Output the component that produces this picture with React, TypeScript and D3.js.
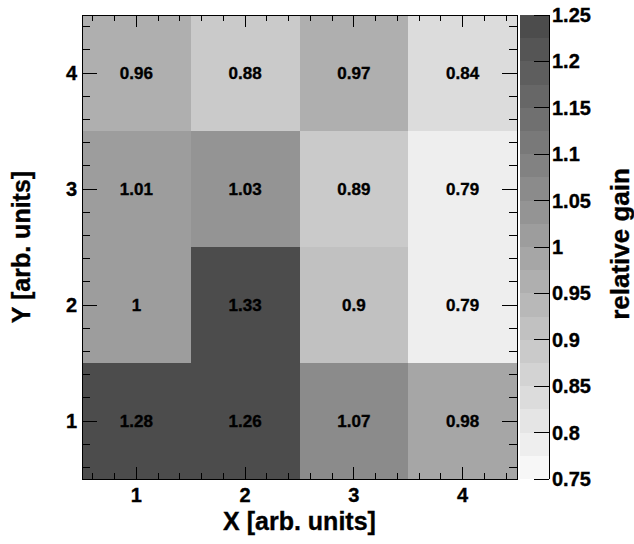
import React from "react";
import * as d3 from "d3";

const xCategories = [1, 2, 3, 4];
const yCategories = [1, 2, 3, 4];
// values[row y index][col x index]
const row1 = [1.28, 1.26, 1.07, 0.98];
const row2 = [1, 1.33, 0.9, 0.79];
const row3 = [1.01, 1.03, 0.89, 0.79];
const row4 = [0.96, 0.88, 0.97, 0.84];
const rows = [row1, row2, row3, row4];
const colorTicks = [0.75, 0.8, 0.85, 0.9, 0.95, 1, 1.05, 1.1, 1.15, 1.2, 1.25];
const zMin = 0.75;
const zMax = 1.25;
const nLevels = 20;

const W = 634;
const H = 544;
const L = 82, R = 517, T = 15, B = 479;
const CBL = 520, CBR = 549;
const FONT = "'Liberation Sans', Arial, Helvetica, sans-serif";

export default function App() {
  const x = d3.scaleLinear().domain([0.5, 4.5]).range([L, R]);
  const y = d3.scaleLinear().domain([0.5, 4.5]).range([B, T]);
  const z = d3.scaleLinear().domain([zMin, zMax]).range([B, T]);
  const step = (zMax - zMin) / nLevels;
  const levelColor = (i: number) => {
    const g = Math.round(247 - (171 / (nLevels - 1)) * i);
    return d3.rgb(g, g, g).formatHex();
  };
  const levelOf = (v: number) => {
    let i = Math.floor((v - zMin) / step + 1e-9);
    return Math.max(0, Math.min(nLevels - 1, i));
  };
  const minorX = d3.range(0.6, 4.5, 0.2).map((v) => +v.toFixed(2));
  const minorY = minorX;

  const cells: any[] = [];
  rows.forEach((row, yi) => {
    row.forEach((v, xi) => {
      const cx = xCategories[xi];
      const cy = yCategories[yi];
      cells.push({ cx, cy, v });
    });
  });

  const heavy = { stroke: "#000", strokeWidth: 0.35 };

  return (
    <svg width={W} height={H} style={{ display: "block", position: "absolute", left: 0, top: 0 }}>
      <rect x={0} y={0} width={W} height={H} fill="#fff" />
      {cells.map((c, i) => (
        <rect
          key={"c" + i}
          x={x(c.cx - 0.5)}
          y={y(c.cy + 0.5)}
          width={x(c.cx + 0.5) - x(c.cx - 0.5)}
          height={y(c.cy - 0.5) - y(c.cy + 0.5)}
          fill={levelColor(levelOf(c.v))}
          shapeRendering="crispEdges"
        />
      ))}
      {cells.map((c, i) => (
        <text
          key={"t" + i}
          x={x(c.cx)}
          y={y(c.cy)}
          textAnchor="middle"
          dominantBaseline="central"
          fontFamily={FONT}
          fontWeight="bold"
          fontSize={17}
          fill="#000"
          {...heavy}
        >
          {String(c.v)}
        </text>
      ))}
      {/* ticks */}
      <g stroke="#000" strokeWidth={1} shapeRendering="crispEdges">
        {minorX.map((v, i) => {
          const major = Math.abs(v - Math.round(v)) < 1e-6;
          const lx = major ? 12 : 6;
          return (
            <g key={"tx" + i}>
              <line x1={x(v)} x2={x(v)} y1={B} y2={B - lx} />
              <line x1={x(v)} x2={x(v)} y1={T} y2={T + lx} />
            </g>
          );
        })}
        {minorY.map((v, i) => {
          const major = Math.abs(v - Math.round(v)) < 1e-6;
          const ly = major ? 15 : 8;
          return (
            <g key={"ty" + i}>
              <line x1={L} x2={L + ly} y1={y(v)} y2={y(v)} />
              <line x1={R} x2={R - ly} y1={y(v)} y2={y(v)} />
            </g>
          );
        })}
      </g>
      <rect x={L} y={T} width={R - L} height={B - T} fill="none" stroke="#000" strokeWidth={1} shapeRendering="crispEdges" />
      {/* axis labels */}
      {xCategories.map((v) => (
        <text key={"xl" + v} x={x(v)} y={B + 16} textAnchor="middle" dominantBaseline="central" fontFamily={FONT} fontWeight="bold" fontSize={20} {...heavy}>
          {v}
        </text>
      ))}
      {yCategories.map((v) => (
        <text key={"yl" + v} x={L - 5} y={y(v)} textAnchor="end" dominantBaseline="central" fontFamily={FONT} fontWeight="bold" fontSize={20} {...heavy}>
          {v}
        </text>
      ))}
      <text x={(L + R) / 2} y={521} textAnchor="middle" dominantBaseline="central" fontFamily={FONT} fontWeight="bold" fontSize={25} {...heavy}>
        X [arb. units]
      </text>
      <text
        transform={`translate(21,${(T + B) / 2}) rotate(-90)`}
        textAnchor="middle"
        dominantBaseline="central"
        fontFamily={FONT}
        fontWeight="bold"
        fontSize={25}
        {...heavy}
      >
        Y [arb. units]
      </text>
      {/* color bar */}
      {d3.range(nLevels).map((i) => (
        <rect
          key={"cb" + i}
          x={CBL}
          y={z(zMin + (i + 1) * step)}
          width={CBR - CBL}
          height={z(zMin + i * step) - z(zMin + (i + 1) * step)}
          fill={levelColor(i)}
          shapeRendering="crispEdges"
        />
      ))}
      <line x1={CBR} x2={CBR} y1={T} y2={B} stroke="#000" shapeRendering="crispEdges" />
      {colorTicks.map((v, i) => (
        <g key={"ct" + i}>
          <line x1={CBR - 15} x2={CBR} y1={z(v)} y2={z(v)} stroke="#000" shapeRendering="crispEdges" />
          <text x={CBR + 3} y={z(v)} dominantBaseline="central" fontFamily={FONT} fontWeight="bold" fontSize={20} {...heavy}>
            {String(v)}
          </text>
        </g>
      ))}
      <text
        transform={`translate(620,244) rotate(-90)`}
        textAnchor="middle"
        dominantBaseline="central"
        fontFamily={FONT}
        fontWeight="bold"
        fontSize={26}
        {...heavy}
      >
        relative gain
      </text>
    </svg>
  );
}
